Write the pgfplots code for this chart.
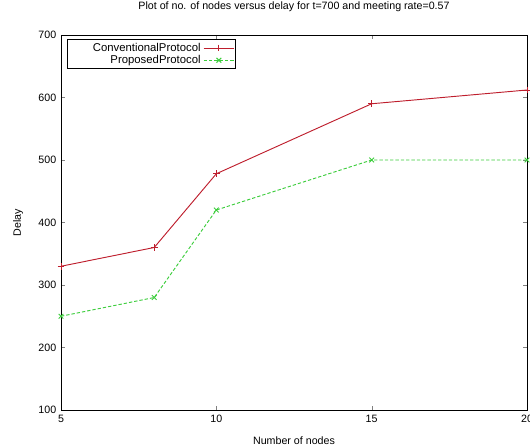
\documentclass[border=0pt]{standalone}
\usepackage{fontspec}
\setmainfont{Liberation Sans}
\usepackage{pgfplots}
\pgfplotsset{compat=1.18}
\definecolor{convred}{RGB}{190,30,45}
\definecolor{propgreen}{RGB}{60,205,60}
\begin{document}
\begin{tikzpicture}
\useasboundingbox (-45.75pt,-27.75pt) rectangle (351.75pt,307.5pt);
\begin{axis}[at={(0,0)},anchor=south west,scale only axis,
width=349.5pt,height=281.25pt,
xmin=5,xmax=20,ymin=100,ymax=700,
xtick={5,10,15,20},ytick={100,200,...,700},
xtick pos=both,ytick pos=both,xticklabel pos=left,yticklabel pos=left,
tick align=inside,major tick length=3pt,
/pgf/number format/assume math mode=true,
tick label style={font=\fontsize{8}{9}\selectfont},
axis line style={line width=0.7pt},
title={Plot of no. of nodes versus delay for t=700 and meeting rate=0.57},
title style={at={(axis description cs:0.5,1.0533)},anchor=center,font=\fontsize{8}{9}\selectfont},
xlabel={Number of nodes},
xlabel style={at={(axis description cs:0.5,-0.083)},anchor=center,font=\fontsize{8}{9}\selectfont},
ylabel={Delay},
ylabel style={at={(axis description cs:-0.092,0.5)},anchor=center,font=\fontsize{8}{9}\selectfont},
legend plot pos=right,legend cell align=right,
legend style={at={(axis description cs:0.013,0.989)},anchor=north west,draw=black,
  line width=0.7pt,font=\fontsize{8.5}{8.5}\selectfont,inner ysep=0.5pt,inner xsep=1pt,row sep=-2.5pt},
legend image code/.code={\draw[mark repeat=2,mark phase=2,#1] plot coordinates {(0cm,0cm) (0.4cm,0cm) (0.8cm,0cm)};},
]
\addplot[convred,line width=0.7pt,mark=+,mark size=2.5pt] coordinates {
(5,330) (8,360) (10,478) (15,590) (20,612)};
\addlegendentry{\hspace*{16pt}ConventionalProtocol}
\addplot[propgreen,line width=0.7pt,dash pattern=on 2.5pt off 1.5pt,mark=x,mark size=2.5pt,mark options={solid}] coordinates {
(5,250) (8,280) (10,420) (15,500) (20,500)};
\addlegendentry{ProposedProtocol}
\end{axis}
\end{tikzpicture}
\end{document}
